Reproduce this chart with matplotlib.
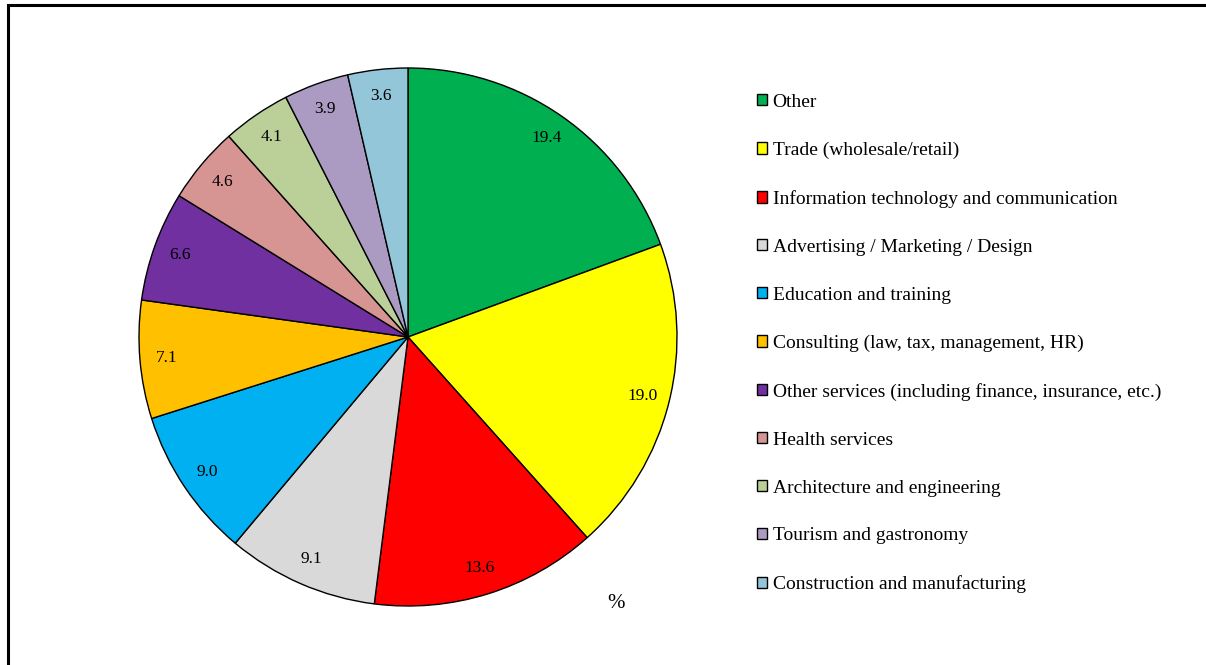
import matplotlib.pyplot as plt
from matplotlib.patches import Rectangle

plt.rcParams['font.family'] = ['Liberation Serif', 'DejaVu Serif']

sectors = ['Other', 'Trade (wholesale/retail)', 'Information technology and communication',
           'Advertising / Marketing / Design', 'Education and training',
           'Consulting (law, tax, management, HR)',
           'Other services (including finance, insurance, etc.)', 'Health services',
           'Architecture and engineering', 'Tourism and gastronomy',
           'Construction and manufacturing']
shares = [19.4, 19.0, 13.6, 9.1, 9.0, 7.1, 6.6, 4.6, 4.1, 3.9, 3.6]
colors = ['#00B050', '#FFFF00', '#FF0000', '#D9D9D9', '#00B0F0', '#FFC000',
          '#7030A0', '#D69592', '#BBD098', '#AB9BC2', '#93C6D8']

W, H = 1206, 665
fig = plt.figure(figsize=(W / 100, H / 100), dpi=100)

# pie centre (408, 337) px, radius 269 px
cx, cy, r = 408, 337, 269
pad = 1.02
side = 2 * r * pad
ax = fig.add_axes([(cx - side / 2) / W, (H - cy - side / 2) / H, side / W, side / H])
wedges, texts = ax.pie(shares, colors=colors, startangle=90, counterclock=False,
                       labels=[f'{v:.1f}' for v in shares], labeldistance=0.9,
                       wedgeprops=dict(edgecolor='black', linewidth=1.0),
                       textprops=dict(fontsize=12.5, ha='center', va='center'))
ax.set_xlim(-pad, pad)
ax.set_ylim(-pad, pad)
ax.set_aspect('equal')

fig.text(616 / W, 1 - 604 / H, '%', fontsize=15, ha='center', va='center')

leg = fig.legend(wedges, sectors, loc='upper left', bbox_to_anchor=(749 / W, 1 - 86 / H),
                 frameon=False, fontsize=14, handlelength=0.51, handleheight=0.51,
                 handletextpad=0.31, labelspacing=1.59, borderaxespad=0)

# outer frame (cropped at right and bottom)
fig.patches.append(Rectangle((7.5 / W, -0.1), 1.2, 1 - 5.5 / H + 0.1, transform=fig.transFigure,
                             fill=False, edgecolor='black', linewidth=2.2))

fig.savefig('out.png', dpi=100)
